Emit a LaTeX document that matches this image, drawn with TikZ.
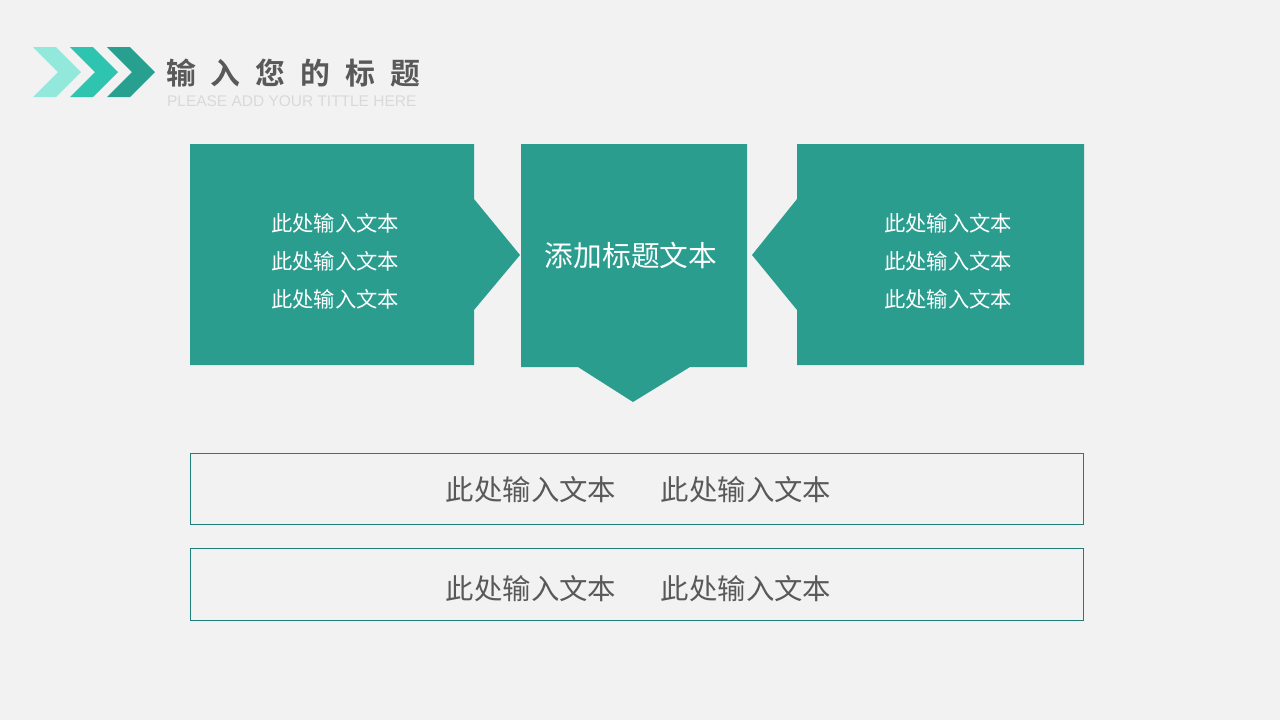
\documentclass[tikz,border=0pt]{standalone}
\usepackage{fontspec}
\setmainfont{Noto Sans CJK SC}
\newfontfamily\latinsans{Liberation Sans}
\newfontfamily\titlefont[LetterSpace=50]{Noto Sans CJK SC Bold}
\definecolor{bgc}{HTML}{F2F2F2}
\definecolor{teal}{HTML}{2A9D8F}
\definecolor{chevA}{HTML}{93E8DC}
\definecolor{chevB}{HTML}{2EC4B0}
\definecolor{chevC}{HTML}{27A08F}
\definecolor{outl}{HTML}{1C8079}
\definecolor{txtgray}{HTML}{595959}
\definecolor{subgray}{HTML}{D9D9D9}
\begin{document}
\begin{tikzpicture}[x=0.05cm,y=-0.05cm,
  tealshape/.style={fill=teal,draw=none},
  whitetxt/.style={text=white,inner sep=0pt,align=center},
  rowbox/.style={draw=outl,line width=0.9pt,fill=none},
  rowtxt/.style={text=txtgray,inner sep=0pt,font=\fontsize{40.4pt}{46pt}\selectfont}]
\useasboundingbox (0,0) rectangle (1280,720);
\fill[bgc] (0,0) rectangle (1280,720);
% chevrons
\foreach \x/\c in {33/chevA,70/chevB,107/chevC}{
  \fill[\c] (\x,47) -- (\x+23,47) -- (\x+48,72) -- (\x+23,97) -- (\x,97) -- (\x+25,72) -- cycle;
}
\node[anchor=west,inner sep=0pt,text=txtgray] (title) at (166,73)
  {\titlefont\fontsize{42.5pt}{48pt}\selectfont 输入您的标题};
\node[anchor=west,inner sep=0pt,text=subgray] (subtitle) at (167,101)
  {\latinsans\fontsize{22pt}{24pt}\selectfont PLEASE ADD YOUR TITTLE HERE};
% left box with right arrow
\fill[tealshape] (190,144) -- (474,144) -- (474,199) -- (520,255) -- (474,310) -- (474,365) -- (190,365) -- cycle;
% centre box with down arrow
\fill[tealshape] (521,144) -- (747,144) -- (747,367) -- (690,367) -- (633,402) -- (578,367) -- (521,367) -- cycle;
% right box with left arrow
\fill[tealshape] (797,144) -- (1084,144) -- (1084,365) -- (797,365) -- (797,310) -- (752,255) -- (797,199) -- cycle;
\node[whitetxt,font=\fontsize{30.3pt}{54pt}\selectfont] (ltxt) at (335,261) {此处输入文本\\此处输入文本\\此处输入文本};
\node[whitetxt,font=\fontsize{40.8pt}{46pt}\selectfont] (ctxt) at (631,256) {添加标题文本};
\node[whitetxt,font=\fontsize{30.3pt}{54pt}\selectfont] (rtxt) at (948,261) {此处输入文本\\此处输入文本\\此处输入文本};
% bottom rows
\draw[rowbox] (190.5,453.5) rectangle (1083.5,524.5);
\draw[rowbox] (190.5,548.5) rectangle (1083.5,620.5);
\node[rowtxt] (r1a) at (531,490) {此处输入文本};
\node[rowtxt] (r1b) at (746,490) {此处输入文本};
\node[rowtxt] (r2a) at (531,589) {此处输入文本};
\node[rowtxt] (r2b) at (746,589) {此处输入文本};
\end{tikzpicture}
\end{document}
